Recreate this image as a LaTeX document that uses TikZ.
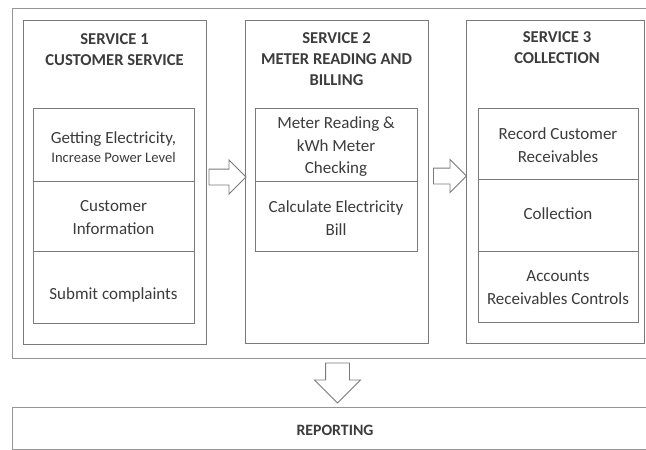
\documentclass[tikz,border=0pt]{standalone}
\usepackage{fontspec}
\setmainfont{Carlito}
\usetikzlibrary{shapes.arrows}
\definecolor{bordergray}{HTML}{7A7A7A}
\definecolor{framegray}{HTML}{959595}
\definecolor{txt}{HTML}{3C3C3C}
\begin{document}
\begin{tikzpicture}[x=1pt,y=-1pt,
  box/.style={draw=bordergray,line width=0.9pt,rectangle,inner sep=0pt},
  frame/.style={draw=framegray,line width=0.9pt,rectangle,inner sep=0pt},
  title/.style={text=txt,font=\fontsize{16.6}{21}\selectfont\bfseries,align=center,inner sep=0pt},
  body/.style={text=txt,font=\fontsize{17}{22.5}\selectfont,align=center,inner sep=0pt},
  blockarrow/.style={single arrow,draw=bordergray,line width=0.9pt,fill=white,inner xsep=0pt,single arrow head indent=0pt}
]
\useasboundingbox (0,0) rectangle (646,450);
\clip (0,0) rectangle (646,450);
\fill[white] (0,0) rectangle (646,450);

% outer frame and reporting box
\node[frame,minimum width=650pt,minimum height=350pt] (outer) at (337,183) {};
\node[frame,minimum width=650pt,minimum height=42pt] (report) at (337,428) {};
\node[title,font=\fontsize{15.8}{20}\selectfont\bfseries] (reportlabel) at (335,430) {REPORTING};

% service boxes
\node[box,minimum width=183pt,minimum height=324pt] (s1) at (114.5,182) {};
\node[box,minimum width=183pt,minimum height=323pt] (s2) at (336.5,181.5) {};
\node[box,minimum width=178pt,minimum height=323pt] (s3) at (555,181.5) {};

\node[title] (t1) at (114.5,50) {SERVICE 1\\CUSTOMER SERVICE};
\node[title] (t2) at (336.5,59) {SERVICE 2\\METER READING AND\\BILLING};
\node[title] (t3) at (557,48) {SERVICE 3\\COLLECTION};

% service 1 cells
\node[box,minimum width=161pt,minimum height=73pt] (c11) at (113.5,144.5) {};
\node[box,minimum width=161pt,minimum height=70pt] (c12) at (113.5,216) {};
\node[box,minimum width=161pt,minimum height=72pt] (c13) at (113.5,287) {};
\node[body] (l11) at (113.5,147) {Getting Electricity,\\[-4pt]{\fontsize{14.6}{16}\selectfont Increase Power Level}};
\node[body] (l12) at (113.5,217.5) {Customer\\Information};
\node[body] (l13) at (113.5,295) {Submit complaints};

% service 2 cells
\node[box,minimum width=162pt,minimum height=73pt] (c21) at (336,144.5) {};
\node[box,minimum width=162pt,minimum height=70pt] (c22) at (336,216) {};
\node[body] (l21) at (336,147) {Meter Reading \&\\kWh Meter\\Checking};
\node[body] (l22) at (336,218) {Calculate Electricity\\Bill};

% service 3 cells
\node[box,minimum width=160pt,minimum height=71pt] (c31) at (558,143.5) {};
\node[box,minimum width=160pt,minimum height=72pt] (c32) at (558,215) {};
\node[box,minimum width=160pt,minimum height=71pt] (c33) at (558,286.5) {};
\node[body] (l31) at (558,145) {Record Customer\\Receivables};
\node[body] (l32) at (558,214) {Collection};
\node[body] (l33) at (558,287.5) {Accounts\\Receivables Controls};

% block arrows
\node[blockarrow,minimum height=37pt,inner ysep=7.5pt,single arrow head extend=9pt] (a1) at (223.5,177) {};
\node[blockarrow,minimum height=33pt,inner ysep=7.5pt,single arrow head extend=8.5pt] (a2) at (446,176) {};
\node[blockarrow,minimum height=40pt,inner ysep=11.5pt,single arrow head extend=11pt,rotate=-90] (a3) at (337.5,377) {};
\end{tikzpicture}
\end{document}
